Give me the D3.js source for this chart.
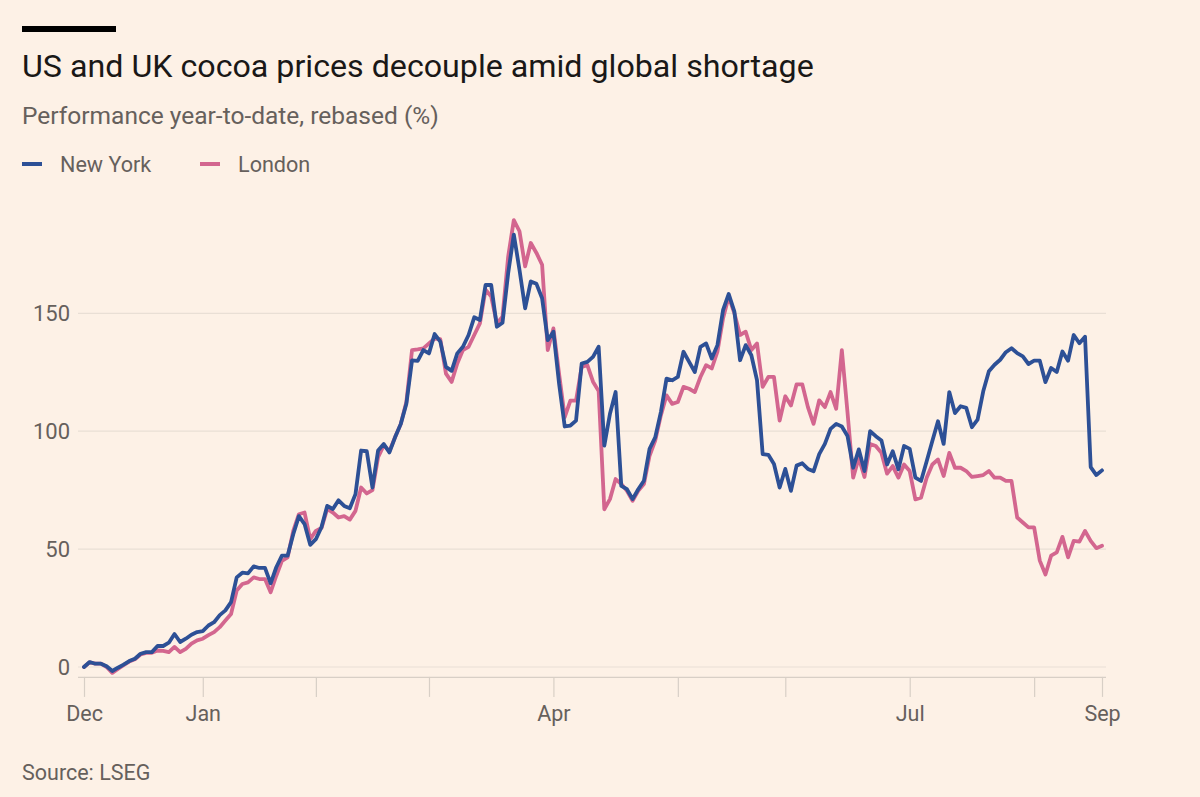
<!DOCTYPE html>
<html>
<head>
<meta charset="utf-8">
<script src="https://cdn.jsdelivr.net/npm/d3@7"></script>
<style>
  html, body { margin: 0; padding: 0; background: #fdf1e6; }
  svg { display: block; }
  text { font-family: Roboto, "Noto Sans", sans-serif; }
</style>
</head>
<body>
<script>
// ---- data ----
const titleText = "US and UK cocoa prices decouple amid global shortage";
const subtitleText = "Performance year-to-date, rebased (%)";
const sourceText = "Source: LSEG";
const seriesNames = ["New York", "London"];

// trading-day index positions of axis ticks and their labels
const tickIndex = [0, 21, 41, 61, 83, 105, 124, 146, 168, 180];
const tickLabels = ["Dec", "Jan", "", "", "Apr", "", "", "Jul", "", "Sep"];
const yTicks = [0, 50, 100, 150];

const newYork = [
  0, 2.1, 1.4, 1.4, 0.3, -1.7, -0.3, 1.0, 2.5, 3.5,
  5.6, 6.3, 6.3, 8.9, 8.9, 10.3, 14.0, 10.6, 12.0, 13.7,
  14.8, 15.2, 17.6, 19.0, 22.0, 24.0, 27.5, 38.0, 40.0, 39.7,
  42.7, 42.0, 42.0, 35.5, 42.3, 47.2, 47.2, 56.3, 64.0, 60.6,
  51.8, 54.2, 59.4, 68.3, 67.0, 70.7, 68.3, 67.3, 73.3, 91.8,
  91.5, 76.1, 91.8, 94.6, 91.0, 97.4, 103.0, 111.6, 130.0, 129.8,
  134.4, 133.0, 141.2, 138.0, 127.3, 125.6, 133.0, 135.8, 140.8, 148.3,
  147.2, 162.0, 162.0, 144.3, 146.0, 167.0, 183.4, 168.5, 152.1, 163.5,
  162.5, 156.4, 138.6, 142.2, 120.2, 102.0, 102.4, 104.5, 128.7, 129.4,
  131.5, 135.8, 93.9, 107.4, 116.6, 76.8, 75.4, 71.2, 75.4, 79.0,
  92.5, 97.4, 108.1, 122.3, 121.6, 123.0, 133.7, 129.4, 125.1, 135.8,
  137.2, 130.8, 136.5, 151.4, 158.2, 150.7, 130.1, 136.5, 132.2, 121.6,
  90.3, 90.0, 86.1, 76.1, 84.0, 74.7, 85.4, 86.4, 84.0, 83.0,
  90.3, 94.6, 101.0, 103.1, 102.0, 98.0, 84.5, 92.3, 83.1, 100.0,
  97.9, 96.1, 85.9, 91.5, 83.8, 93.7, 92.5, 80.3, 78.9, 87.3,
  95.8, 104.2, 94.6, 116.6, 107.7, 110.6, 109.9, 101.7, 104.9, 116.9,
  125.4, 128.2, 130.3, 133.5, 135.2, 133.1, 131.7, 128.5, 129.9, 129.9,
  120.8, 126.8, 125.1, 133.8, 129.9, 140.8, 137.3, 140.1, 84.8, 81.4,
  83.4
];

const london = [
  0, 2.0, 1.4, 1.4, 0.0, -2.5, -0.8, 0.8, 2.3, 3.3,
  5.3, 6.0, 6.0, 7.0, 6.8, 6.3, 8.5, 6.3, 7.7, 9.9,
  11.3, 12.0, 13.5, 14.8, 16.9, 19.7, 22.5, 32.4, 35.2, 35.9,
  38.0, 37.3, 37.3, 31.7, 38.7, 45.0, 46.5, 57.7, 64.8, 65.5,
  54.2, 57.7, 59.0, 67.0, 65.5, 63.4, 64.0, 62.5, 66.2, 76.1,
  73.6, 75.0, 89.0, 94.0, 91.5, 97.4, 103.0, 112.4, 134.4, 134.7,
  135.1, 137.2, 139.3, 139.0, 124.4, 120.9, 128.7, 134.4, 135.8, 140.8,
  145.7, 160.0, 157.1, 145.7, 148.6, 174.0, 189.5, 184.8, 169.9, 179.8,
  175.6, 170.6, 134.4, 143.6, 124.4, 106.0, 113.0, 113.0, 127.3, 128.0,
  121.0, 117.0, 66.9, 71.2, 79.7, 77.6, 74.7, 70.5, 74.7, 77.6,
  89.6, 96.0, 106.7, 115.2, 111.6, 112.4, 118.8, 118.0, 116.6, 123.0,
  128.0, 126.6, 133.7, 147.9, 157.1, 150.0, 140.8, 142.2, 134.4, 137.2,
  118.8, 123.0, 123.0, 104.5, 114.8, 110.9, 119.9, 119.9, 110.2, 103.1,
  113.1, 110.2, 116.6, 109.5, 134.4, 108.0, 80.3, 88.7, 80.6, 94.6,
  93.7, 90.8, 82.0, 85.2, 80.3, 85.9, 83.1, 71.1, 71.8, 80.3,
  85.9, 88.0, 81.0, 90.8, 84.5, 84.5, 83.1, 80.6, 81.0, 81.4,
  83.1, 80.3, 80.3, 78.9, 78.9, 63.4, 61.3, 59.2, 59.2, 45.1,
  39.2, 47.2, 48.6, 55.2, 46.5, 53.5, 53.2, 57.7, 53.5, 50.4,
  51.4
];

// ---- layout ----
const W = 1200, H = 797;
const colors = { "New York": "#2d5096", "London": "#d3668f" };
const bg = "#fdf1e6";
const textGrey = "#66605c";

const svg = d3.select("body").append("svg")
  .attr("width", W).attr("height", H)
  .style("background", bg);

svg.append("rect").attr("width", W).attr("height", H).attr("fill", bg);

// header
svg.append("rect").attr("x", 22).attr("y", 26).attr("width", 94).attr("height", 6).attr("fill", "#000");
svg.append("text").attr("x", 22).attr("y", 77)
  .attr("font-size", 32.2).attr("fill", "#1a1817").text(titleText);
svg.append("text").attr("x", 22).attr("y", 124)
  .attr("font-size", 24.5).attr("fill", textGrey).text(subtitleText);

// legend
const legendX = [22, 200];
seriesNames.forEach((name, i) => {
  const g = svg.append("g").attr("transform", `translate(${legendX[i]},164)`);
  g.append("line").attr("x1", 0).attr("x2", 20).attr("y1", 0).attr("y2", 0)
    .attr("stroke", colors[name]).attr("stroke-width", 4);
  g.append("text").attr("x", 38).attr("y", 8)
    .attr("font-size", 21.6).attr("fill", textGrey).text(name);
});

// scales
const x = d3.scaleLinear().domain([0, newYork.length - 1]).range([84, 1102]);
const y = d3.scaleLinear().domain([0, 150]).range([667, 313.3]);
const gridX0 = 78, gridX1 = 1106;

// grid + y labels
const gGrid = svg.append("g");
yTicks.forEach(t => {
  gGrid.append("line").attr("x1", gridX0).attr("x2", gridX1)
    .attr("y1", y(t)).attr("y2", y(t))
    .attr("stroke", "#e9dfd5").attr("stroke-width", 1.2);
  gGrid.append("text").attr("x", 70).attr("y", y(t)).attr("dy", "0.36em")
    .attr("text-anchor", "end").attr("font-size", 22).attr("fill", textGrey).text(t);
});

// x axis
const axisY = y(-4.2);
const xAxis = d3.axisBottom(x)
  .tickValues(tickIndex)
  .tickFormat((d, i) => tickLabels[i])
  .tickSize(20)
  .tickPadding(9)
  .tickSizeOuter(0);
const gx = svg.append("g").attr("transform", `translate(0,${axisY})`).call(xAxis);
gx.select(".domain").attr("d", `M${gridX0},0.5H${gridX1}`).attr("stroke", "#d8cfc6").attr("stroke-width", 1.2);
gx.selectAll(".tick line").attr("stroke", "#d8cfc6").attr("stroke-width", 1.2);
gx.selectAll(".tick text").attr("font-size", 21.5).attr("fill", textGrey)
  .attr("font-family", "Roboto, 'Noto Sans', sans-serif");

// lines
const line = d3.line().x((d, i) => x(i)).y(d => y(d)).curve(d3.curveLinear);
[["London", london], ["New York", newYork]].forEach(([name, vals]) => {
  svg.append("path").datum(vals)
    .attr("fill", "none").attr("stroke", colors[name])
    .attr("stroke-width", 3.8).attr("stroke-linejoin", "round").attr("stroke-linecap", "round")
    .attr("d", line);
});

// source
svg.append("text").attr("x", 22).attr("y", 780)
  .attr("font-size", 21.5).attr("fill", textGrey).text(sourceText);
</script>
</body>
</html>
